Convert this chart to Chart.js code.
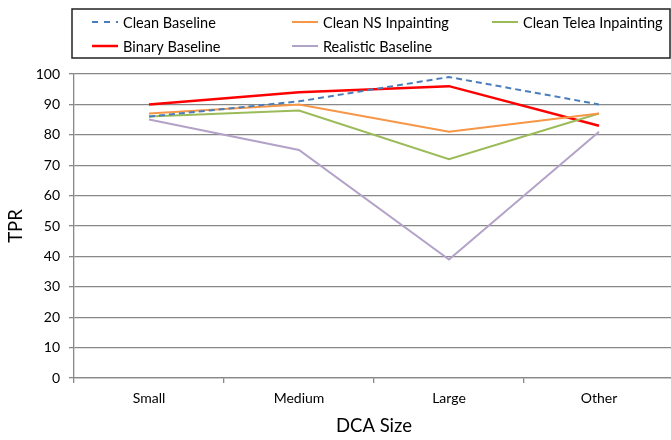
<!DOCTYPE html>
<html>
<head>
<meta charset="utf-8">
<script src="https://cdn.jsdelivr.net/npm/chart.js@4.4.1/dist/chart.umd.min.js"></script>
<style>
  html, body { margin: 0; padding: 0; background: #fff; overflow: hidden; }
  #wrap { position: relative; width: 677px; height: 440px; }
</style>
</head>
<body>
<div id="wrap"><canvas id="tprChart"></canvas></div>
<script>
// data
const sizes = ['Small', 'Medium', 'Large', 'Other'];
const cleanBaseline = [86, 91, 99, 90];
const cleanNS = [87, 90, 81, 87];
const cleanTelea = [86, 88, 72, 87];
const binaryBaseline = [90, 94, 96, 83];
const realisticBaseline = [85, 75, 39, 81];

const FONT = 'Lato, "Open Sans", sans-serif';

function series(label, data, color, width, dash) {
  return {
    label: label,
    data: data,
    borderColor: color,
    backgroundColor: color,
    borderWidth: width,
    borderDash: dash || [],
    pointRadius: 0,
    tension: 0,
    fill: false
  };
}

// legend in a box, three fixed columns like the original
const boxLegend = {
  id: 'boxLegend',
  afterDraw(chart) {
    const ctx = chart.ctx;
    ctx.save();
    ctx.strokeStyle = '#222';
    ctx.lineWidth = 1.5;
    ctx.strokeRect(72, 9, 598, 49);
    ctx.font = '14.5px ' + FONT;
    ctx.textBaseline = 'middle';
    ctx.fillStyle = '#000';
    chart.data.datasets.forEach(function(ds, i) {
      const col = i % 3, row = Math.floor(i / 3);
      const x = 92 + col * 200, y = 22 + row * 24;
      ctx.beginPath();
      ctx.strokeStyle = ds.borderColor;
      ctx.lineWidth = ds.borderWidth;
      ctx.setLineDash(ds.borderDash.length ? [6, 6] : []);
      ctx.moveTo(x, y);
      ctx.lineTo(x + 26, y);
      ctx.stroke();
      ctx.setLineDash([]);
      ctx.fillText(ds.label, x + 31, y + 1);
    });
    ctx.restore();
  }
};

new Chart(document.getElementById('tprChart'), {
  type: 'line',
  data: {
    labels: sizes,
    datasets: [
      series('Clean Baseline', cleanBaseline, '#4a7ebb', 2, [6, 4]),
      series('Clean NS Inpainting', cleanNS, '#f79646', 2),
      series('Clean Telea Inpainting', cleanTelea, '#9bbb59', 2),
      series('Binary Baseline', binaryBaseline, '#ff0000', 2.5),
      series('Realistic Baseline', realisticBaseline, '#b3a2c7', 2)
    ]
  },
  options: {
    responsive: true,
    maintainAspectRatio: false,
    animation: false,
    layout: { padding: { top: 74, right: 3, left: 0, bottom: 0 } },
    plugins: {
      legend: { display: false },
      tooltip: { enabled: false }
    },
    scales: {
      x: {
        offset: true,
        grid: { offset: true, drawOnChartArea: false, drawTicks: true, tickLength: 5, color: '#888', lineWidth: 1.3 },
        border: { display: true, color: '#888', width: 1.3 },
        ticks: { color: '#000', font: { family: FONT, size: 14 }, padding: 7 },
        title: { display: true, text: 'DCA Size', color: '#000', font: { family: FONT, size: 18.5 }, padding: { top: 0, bottom: 3 } },
        afterFit(scale) { scale.height = 62; }
      },
      y: {
        min: 0,
        max: 100,
        ticks: { stepSize: 10, color: '#000', font: { family: FONT, size: 14 }, padding: 9 },
        grid: { color: '#888', lineWidth: 1.3, tickLength: 5 },
        border: { display: true, color: '#888', width: 1.3 },
        title: { display: true, text: 'TPR', color: '#000', font: { family: FONT, size: 18.5 }, padding: { top: 5, bottom: 0 } },
        afterFit(scale) { scale.width = 74; }
      }
    }
  },
  plugins: [boxLegend]
});
</script>
</body>
</html>
